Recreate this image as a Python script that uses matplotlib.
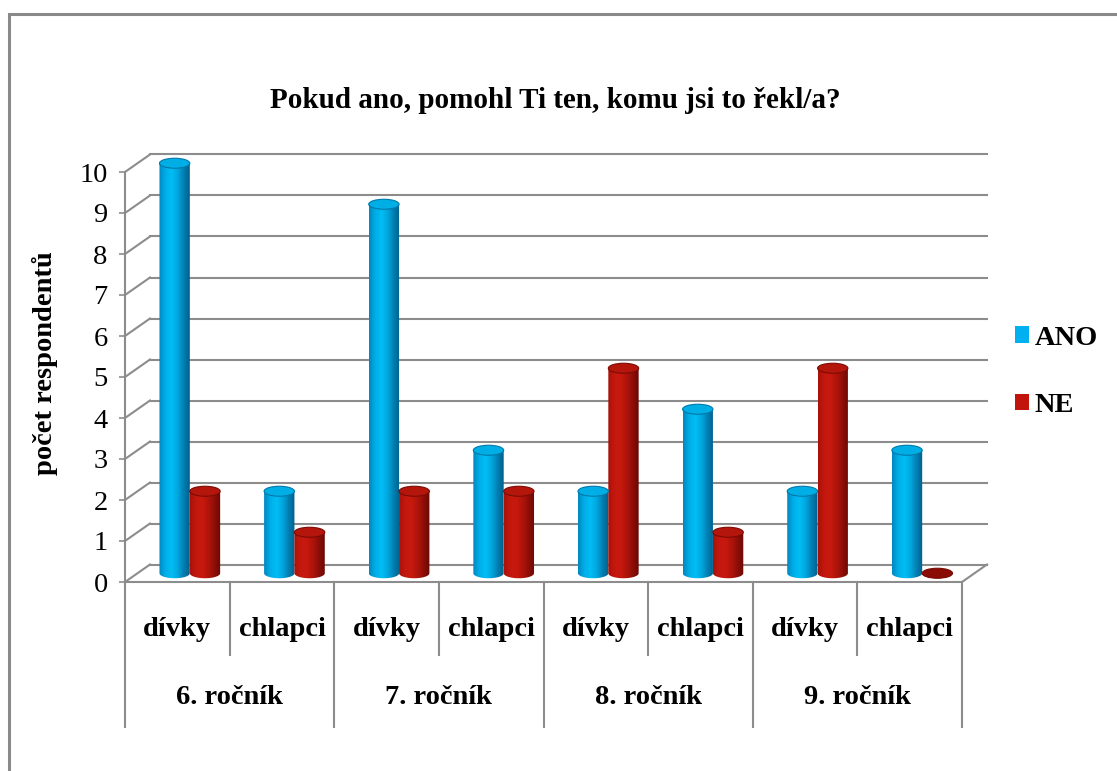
import numpy as np
import matplotlib
matplotlib.use('Agg')
import matplotlib.pyplot as plt
from matplotlib.patches import Ellipse, Rectangle, PathPatch, Patch
from matplotlib.path import Path
from matplotlib.colors import LinearSegmentedColormap

plt.rcParams['font.family'] = ['Liberation Serif', 'DejaVu Serif']
plt.rcParams['font.weight'] = 'bold'

# data
groups = ['6. ročník', '7. ročník', '8. ročník', '9. ročník']
subgroups = ['dívky', 'chlapci']
ano = [10, 2, 9, 3, 2, 4, 2, 3]
ne = [2, 1, 2, 2, 5, 1, 5, 0]
series = ['ANO', 'NE']

W, H = 1117, 771
fig = plt.figure(figsize=(W / 100, H / 100), dpi=100)
fig.patch.set_facecolor('white')

# outer frame (only left/top visible, like the cropped original)
fig.add_artist(Rectangle((9 / W, -0.2), 1.5, 1.2 - 14 / H, transform=fig.transFigure,
                         fill=False, ec='#8a8a8a', lw=2.2))

# front plane of the 3d box (extra headroom above 10 so the cylinder tops are not cut)
ymax = 11
px_y = (582 - 172) / 10     # pixels per unit
ax = fig.add_axes([125 / W, 1 - 582 / H, (962 - 125) / W, ymax * px_y / H])
ncat = len(ano)
for s in ax.spines.values():
    s.set_visible(False)

px_x = (962 - 125) / ncat   # pixels per category
ddx = 25 / px_x             # depth offset
ddy = 17.5 / px_y

grid_c = '#8c8c8c'
lw = 1.5
for v in range(11):
    ax.plot([ddx, ncat + ddx], [v + ddy, v + ddy], color=grid_c, lw=lw, clip_on=False, zorder=1)
    ax.plot([0, ddx], [v, v + ddy], color=grid_c, lw=lw, clip_on=False, zorder=1)
ax.plot([0, ncat], [0, 0], color=grid_c, lw=lw, clip_on=False, zorder=1)
ax.plot([ncat, ncat + ddx], [0, ddy], color=grid_c, lw=lw, clip_on=False, zorder=1)
ax.plot([0, 0], [10, 0], color=grid_c, lw=lw, clip_on=False, zorder=1)

# category table below the floor
fs = 20.5
sub_bottom = -73 / px_y
grp_bottom = -145 / px_y
for i in range(ncat + 1):
    bottom = grp_bottom if i % 2 == 0 else sub_bottom
    ax.plot([i, i], [0, bottom], color=grid_c, lw=lw, clip_on=False, zorder=1)
for i in range(ncat):
    ax.text(i + 0.5, -47 / px_y, subgroups[i % 2], ha='center', va='center', fontsize=fs)
for g, name in enumerate(groups):
    ax.text(2 * g + 1, -116 / px_y, name, ha='center', va='center', fontsize=fs)

# y ticks
ax.set_xticks([])
ax.set_yticks(range(11))
ax.tick_params(axis='y', length=4.5, width=1.2, color=grid_c, labelsize=fs, pad=8)
for t in ax.get_yticklabels():
    t.set_fontweight('normal')

# cylinders
blue_cmap = LinearSegmentedColormap.from_list(
    'b', ['#0088c0', '#00aee8', '#00bdf5', '#00a8e0', '#007fb2', '#00608c'])
red_cmap = LinearSegmentedColormap.from_list(
    'r', ['#a8120a', '#c4180e', '#c8190f', '#b0140b', '#8e0e07', '#6a0904'])
top_colors = ['#00aee6', '#b5160c']
rim_colors = ['#0078a8', '#7a0b05']

bw = 0.29
eh = 10 / px_y
base = ddy / 2
grad = np.linspace(0, 1, 64).reshape(1, -1)
t = np.linspace(np.pi, 2 * np.pi, 40)

for si, (vals, cmap) in enumerate([(ano, blue_cmap), (ne, red_cmap)]):
    for i, v in enumerate(vals):
        xc = i + 0.5 + ddx / 2 + (si - 0.5) * bw
        x0, x1 = xc - bw / 2, xc + bw / 2
        top = base + v
        arc = np.column_stack([xc + bw / 2 * np.cos(t), base + eh / 2 * np.sin(t)])
        verts = np.vstack([[x0, top], arc, [x1, top], [x0, top]])
        codes = [Path.MOVETO] + [Path.LINETO] * (len(verts) - 2) + [Path.CLOSEPOLY]
        body = PathPatch(Path(verts, codes), fc='none', ec='none', transform=ax.transData)
        ax.add_patch(body)
        im = ax.imshow(grad, cmap=cmap, extent=[x0, x1, base - eh, top + eh],
                       aspect='auto', zorder=3, interpolation='bilinear')
        im.set_clip_path(body)
        if v == 0:
            fc = '#8a0c05'
        else:
            fc = top_colors[si]
        ax.add_patch(Ellipse((xc, top), bw, eh, fc=fc, ec=rim_colors[si], lw=0.8,
                             zorder=4, clip_on=False))

ax.set_xlim(0, ncat)
ax.set_ylim(0, ymax)

# title and axis label
fig.text(555 / W, 1 - 100 / H, 'Pokud ano, pomohl Ti ten, komu jsi to řekl/a?',
         ha='center', va='center', fontsize=21, fontweight='bold')
fig.text(45 / W, 1 - 363 / H, 'počet respondentů', rotation=90,
         ha='center', va='center', fontsize=fs, fontweight='bold')

# legend
handles = [Patch(fc='#00b0f0', ec='none'), Patch(fc='#c0140c', ec='none')]
fig.legend(handles, series, loc='center left', bbox_to_anchor=(1015 / W, 1 - 372 / H),
           frameon=False, fontsize=fs, handlelength=0.5, handleheight=0.5,
           handletextpad=0.2, labelspacing=1.5, borderaxespad=0, borderpad=0)

fig.savefig('out.png', dpi=100)
